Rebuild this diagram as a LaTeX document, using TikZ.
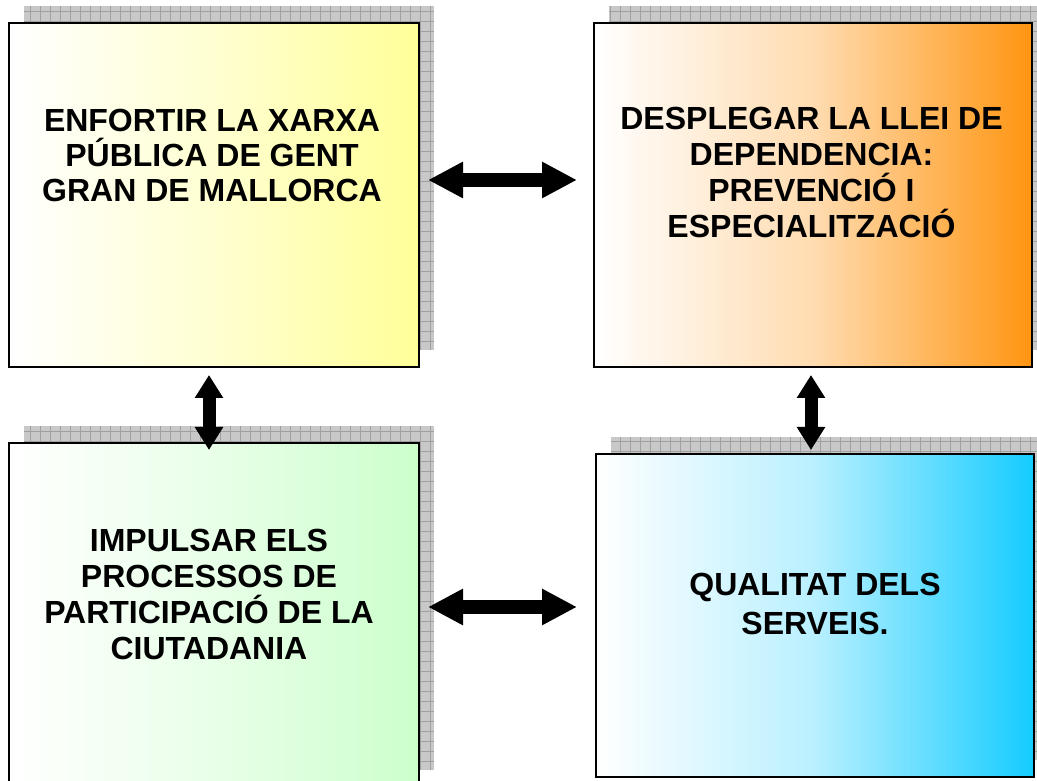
\documentclass[tikz,border=0pt]{standalone}
\usepackage{fontspec}
\setmainfont{Liberation Sans}
\usetikzlibrary{arrows.meta}
\definecolor{yellowR}{HTML}{FFFF99}
\definecolor{orangeR}{HTML}{FF9511}
\definecolor{greenR}{HTML}{CCFFCC}
\definecolor{cyanR}{HTML}{14CCFF}
\definecolor{shadowgray}{HTML}{C8C8C8}
\definecolor{gridgray}{HTML}{A0A0A0}
\tikzset{
  box/.style={draw=black, line width=2pt, shading=axis, left color=white, anchor=north west, inner sep=0pt},
  lbl/.style={font=\fontsize{32}{35}\selectfont\bfseries, align=center, text=black},
  hdbl/.style={line width=14pt, {Triangle[length=35pt,width=34pt]}-{Triangle[length=35pt,width=34pt]}},
  vdbl/.style={line width=13pt, {Triangle[length=23pt,width=27pt]}-{Triangle[length=23pt,width=27pt]}},
  gridline/.style={draw=gridgray, line width=0.6pt},
}
\newcommand{\shadowrect}[4]{%
  \fill[shadowgray] (#1,#2) rectangle (#3,#4);
  \begin{scope}
    \clip (#1,#2) rectangle (#3,#4);
    \draw[gridline] (#1,#2) grid[step=10pt] (#3,#4);
  \end{scope}}
\begin{document}
\begin{tikzpicture}[x=1pt,y=1pt]
\useasboundingbox (0,0) rectangle (1037,781);
% shadows
\shadowrect{24}{431}{434}{775}
\shadowrect{609}{431}{1049}{775}
\shadowrect{24}{11}{434}{355}
\shadowrect{611}{21}{1049}{344}
% boxes
\node[box, right color=yellowR, middle color=yellowR!45, minimum width=410pt, minimum height=344pt] (b1) at (8,759) {};
\node[box, right color=orangeR, middle color=orangeR!33, minimum width=438pt, minimum height=344pt] (b2) at (593,759) {};
\node[box, right color=greenR, middle color=greenR!45, minimum width=410pt, minimum height=344pt] (b3) at (8,339) {};
\node[box, right color=cyanR, middle color=cyanR!30, minimum width=438pt, minimum height=323pt] (b4) at (595,328) {};
% labels
\node[lbl] (t1) at (212,625.5) {ENFORTIR LA XARXA\\PÚBLICA DE GENT\\GRAN DE MALLORCA};
\node[lbl, font=\fontsize{32}{36}\selectfont\bfseries] (t2) at (811.5,609) {DESPLEGAR LA LLEI DE\\DEPENDENCIA:\\PREVENCIÓ I\\ESPECIALITZACIÓ};
\node[lbl, font=\fontsize{32}{36}\selectfont\bfseries] (t3) at (209,187) {IMPULSAR ELS\\PROCESSOS DE\\PARTICIPACIÓ DE LA\\CIUTADANIA};
\node[lbl, font=\fontsize{32}{39}\selectfont\bfseries] (t4) at (815,177) {QUALITAT DELS\\SERVEIS.};
% arrows
\coordinate (h1a) at (428,601);
\coordinate (h1b) at (577,601);
\coordinate (h2a) at (428,174);
\coordinate (h2b) at (577,174);
\coordinate (v1a) at (209,406);
\coordinate (v1b) at (209,331);
\coordinate (v2a) at (811,406);
\coordinate (v2b) at (811,331);
\draw[hdbl] (h1a) -- (h1b);
\draw[hdbl] (h2a) -- (h2b);
\draw[vdbl] (v1a) -- (v1b);
\draw[vdbl] (v2a) -- (v2b);
\end{tikzpicture}
\end{document}
